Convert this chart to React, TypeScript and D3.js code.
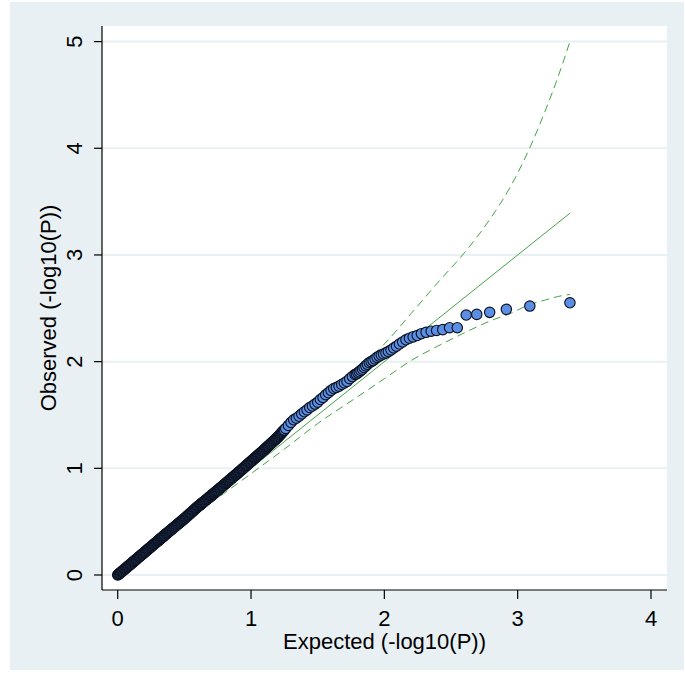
import React from "react";
import * as d3 from "d3";

// Q-Q plot of -log10(P): expected vs observed, one entry per plotted marker.
// Dense body of the distribution first, then the upper tail one rank at a time.
const expected = [
  0.000, 0.005, 0.010, 0.015, 0.020, 0.025, 0.030, 0.035, 0.040, 0.045,
  0.050, 0.055, 0.060, 0.065, 0.070, 0.075, 0.080, 0.085, 0.090, 0.095,
  0.100, 0.105, 0.110, 0.115, 0.120, 0.125, 0.130, 0.135, 0.140, 0.145,
  0.150, 0.155, 0.160, 0.165, 0.170, 0.175, 0.180, 0.185, 0.190, 0.195,
  0.200, 0.205, 0.210, 0.215, 0.220, 0.225, 0.230, 0.235, 0.240, 0.245,
  0.250, 0.255, 0.260, 0.265, 0.270, 0.275, 0.280, 0.285, 0.290, 0.295,
  0.300, 0.305, 0.310, 0.315, 0.320, 0.325, 0.330, 0.335, 0.340, 0.345,
  0.350, 0.355, 0.360, 0.365, 0.370, 0.375, 0.380, 0.385, 0.390, 0.395,
  0.400, 0.405, 0.410, 0.415, 0.420, 0.425, 0.430, 0.435, 0.440, 0.445,
  0.450, 0.455, 0.460, 0.465, 0.470, 0.475, 0.480, 0.485, 0.490, 0.495,
  0.500, 0.505, 0.510, 0.515, 0.520, 0.525, 0.530, 0.535, 0.540, 0.545,
  0.550, 0.555, 0.560, 0.565, 0.570, 0.575, 0.580, 0.585, 0.590, 0.595,
  0.600, 0.605, 0.610, 0.615, 0.620, 0.625, 0.630, 0.635, 0.640, 0.645,
  0.650, 0.655, 0.660, 0.665, 0.670, 0.675, 0.680, 0.685, 0.690, 0.695,
  0.700, 0.705, 0.710, 0.715, 0.720, 0.725, 0.730, 0.735, 0.740, 0.745,
  0.750, 0.755, 0.760, 0.765, 0.770, 0.775, 0.780, 0.785, 0.790, 0.795,
  0.800, 0.805, 0.810, 0.815, 0.820, 0.825, 0.830, 0.835, 0.840, 0.845,
  0.850, 0.855, 0.860, 0.865, 0.870, 0.875, 0.880, 0.885, 0.890, 0.895,
  0.900, 0.905, 0.910, 0.915, 0.920, 0.925, 0.930, 0.935, 0.940, 0.945,
  0.950, 0.955, 0.960, 0.965, 0.970, 0.975, 0.980, 0.985, 0.990, 0.995,
  1.000, 1.005, 1.010, 1.015, 1.020, 1.025, 1.030, 1.035, 1.040, 1.045,
  1.050, 1.055, 1.060, 1.065, 1.070, 1.075, 1.080, 1.085, 1.090, 1.095,
  1.100, 1.105, 1.110, 1.115, 1.120, 1.125, 1.130, 1.135, 1.140, 1.145,
  1.150, 1.155, 1.160, 1.165, 1.170, 1.175, 1.180, 1.185, 1.190, 1.195,
  1.200, 1.205, 1.210, 1.215, 1.220, 1.225, 1.230, 1.235, 1.240, 1.245, 1.250,
  1.26, 1.28, 1.30, 1.32, 1.34, 1.36, 1.38, 1.40, 1.42, 1.44,
  1.46, 1.48, 1.50, 1.52, 1.54, 1.56, 1.58, 1.60, 1.62, 1.64,
  1.66, 1.68, 1.70, 1.72, 1.74, 1.76, 1.78,
  1.790, 1.801, 1.812, 1.824, 1.836, 1.848, 1.861, 1.873, 1.887, 1.901,
  1.915, 1.930, 1.945, 1.961, 1.977, 1.994, 2.012, 2.030, 2.050, 2.070,
  2.091, 2.113, 2.137, 2.162, 2.188, 2.216, 2.246, 2.278, 2.313, 2.351,
  2.392, 2.438, 2.489, 2.547, 2.614, 2.693, 2.790, 2.915, 3.091, 3.392,
];

const observed = [
  0.000, 0.005, 0.011, 0.016, 0.021, 0.026, 0.032, 0.037, 0.042, 0.047,
  0.053, 0.058, 0.063, 0.068, 0.074, 0.079, 0.084, 0.089, 0.095, 0.100,
  0.105, 0.110, 0.116, 0.121, 0.127, 0.132, 0.137, 0.142, 0.148, 0.153,
  0.159, 0.164, 0.169, 0.174, 0.180, 0.185, 0.191, 0.196, 0.201, 0.206,
  0.212, 0.217, 0.223, 0.228, 0.233, 0.238, 0.244, 0.249, 0.254, 0.259,
  0.265, 0.270, 0.276, 0.281, 0.286, 0.291, 0.297, 0.302, 0.307, 0.312,
  0.318, 0.323, 0.329, 0.334, 0.339, 0.344, 0.350, 0.355, 0.360, 0.365,
  0.371, 0.376, 0.382, 0.387, 0.392, 0.397, 0.403, 0.408, 0.413, 0.418,
  0.424, 0.429, 0.434, 0.439, 0.445, 0.450, 0.455, 0.460, 0.466, 0.471,
  0.476, 0.481, 0.486, 0.491, 0.497, 0.502, 0.507, 0.512, 0.518, 0.523,
  0.528, 0.533, 0.539, 0.544, 0.550, 0.556, 0.562, 0.567, 0.573, 0.578,
  0.584, 0.589, 0.595, 0.600, 0.606, 0.612, 0.618, 0.623, 0.629, 0.634,
  0.640, 0.645, 0.650, 0.655, 0.660, 0.665, 0.671, 0.676, 0.681, 0.686,
  0.691, 0.696, 0.701, 0.706, 0.711, 0.716, 0.722, 0.727, 0.732, 0.737,
  0.742, 0.747, 0.753, 0.758, 0.763, 0.768, 0.774, 0.779, 0.784, 0.789,
  0.795, 0.800, 0.806, 0.811, 0.816, 0.821, 0.827, 0.832, 0.837, 0.842,
  0.848, 0.853, 0.859, 0.864, 0.869, 0.874, 0.880, 0.885, 0.891, 0.896,
  0.902, 0.907, 0.912, 0.917, 0.923, 0.928, 0.934, 0.939, 0.944, 0.949,
  0.955, 0.960, 0.966, 0.971, 0.977, 0.982, 0.988, 0.993, 0.999, 1.004,
  1.010, 1.015, 1.021, 1.026, 1.032, 1.037, 1.043, 1.048, 1.054, 1.059,
  1.065, 1.070, 1.076, 1.081, 1.087, 1.092, 1.098, 1.103, 1.109, 1.114,
  1.120, 1.125, 1.131, 1.136, 1.142, 1.147, 1.153, 1.158, 1.164, 1.169,
  1.175, 1.181, 1.187, 1.192, 1.198, 1.204, 1.210, 1.215, 1.221, 1.227,
  1.233, 1.238, 1.244, 1.250, 1.256, 1.261, 1.267, 1.273, 1.279, 1.284,
  1.290, 1.297, 1.304, 1.311, 1.318, 1.325, 1.332, 1.339, 1.346, 1.353, 1.360,
  1.374, 1.402, 1.430, 1.455, 1.470, 1.488, 1.510, 1.530, 1.548, 1.570,
  1.584, 1.602, 1.620, 1.645, 1.664, 1.690, 1.708, 1.730, 1.748, 1.758,
  1.770, 1.786, 1.800, 1.815, 1.840, 1.860, 1.880,
  1.885, 1.895, 1.905, 1.918, 1.930, 1.945, 1.960, 1.975, 1.990, 2.000,
  2.010, 2.025, 2.040, 2.052, 2.062, 2.072, 2.082, 2.095, 2.110, 2.128,
  2.145, 2.165, 2.185, 2.205, 2.220, 2.232, 2.245, 2.262, 2.275, 2.285,
  2.292, 2.300, 2.318, 2.318, 2.437, 2.443, 2.462, 2.490, 2.521, 2.552,
];

// 95% confidence band around the null line
const ciExpected = [0, 0.5, 1.0, 1.25, 1.5, 1.75, 2.0, 2.2, 2.4, 2.6, 2.8, 2.95, 3.1, 3.2, 3.3, 3.392];
const ciUpper = [0, 0.52, 1.06, 1.33, 1.61, 1.88, 2.165, 2.45, 2.74, 3.02, 3.35, 3.65, 4.03, 4.33, 4.66, 5.0];
const ciLower = [0, 0.49, 0.95, 1.18, 1.42, 1.63, 1.84, 2.01, 2.145, 2.27, 2.385, 2.455, 2.54, 2.575, 2.61, 2.63];

const xTicks = [0, 1, 2, 3, 4];
const yTicks = [0, 1, 2, 3, 4, 5];

const BG = "#e8f0f3";
const GREEN = "#45a345";
const FONT = "'Liberation Sans', Arial, sans-serif";

export default function App() {
  const W = 685;
  const H = 682;
  const plot = { left: 102, top: 26, right: 667, bottom: 590 };

  const x = d3.scaleLinear().domain([0, 4]).range([117.7, 651]);
  const y = d3.scaleLinear().domain([0, 5]).range([575, 41.6]);

  const line = d3
    .line<[number, number]>()
    .x((d) => x(d[0]))
    .y((d) => y(d[1]))
    .curve(d3.curveMonotoneX);

  const upperPath = line(ciExpected.map((e, i) => [e, ciUpper[i]] as [number, number])) || "";
  const lowerPath = line(ciExpected.map((e, i) => [e, ciLower[i]] as [number, number])) || "";
  const xMax = d3.max(expected) as number;
  const diagPath = d3.line()([
    [x(0), y(0)],
    [x(xMax), y(xMax)],
  ]) || "";

  const points = expected.map((e, i) => ({ e, o: observed[i] }));

  return (
    <svg
      width={W}
      height={H}
      style={{ position: "absolute", left: 0, top: 0, display: "block", background: "#ffffff" }}
    >
      <rect x={10} y={2} width={674} height={668} fill={BG} />
      <rect
        x={plot.left}
        y={plot.top}
        width={plot.right - plot.left}
        height={plot.bottom - plot.top}
        fill="#ffffff"
      />

      {/* horizontal grid */}
      {yTicks.map((t) => (
        <line
          key={`g${t}`}
          x1={plot.left}
          x2={plot.right}
          y1={y(t)}
          y2={y(t)}
          stroke={BG}
          strokeWidth={2}
        />
      ))}

      {/* null line and confidence band */}
      <path d={diagPath} fill="none" stroke={GREEN} strokeWidth={1} />
      <path d={upperPath} fill="none" stroke={GREEN} strokeWidth={1} strokeDasharray="8 5" />
      <path d={lowerPath} fill="none" stroke={GREEN} strokeWidth={1} strokeDasharray="8 5" />

      {/* markers */}
      {points.map((p, i) => (
        <circle
          key={i}
          cx={x(p.e)}
          cy={y(p.o)}
          r={5.2}
          fill="#5b8fe6"
          stroke="#0c1220"
          strokeWidth={1.15}
        />
      ))}

      {/* axes */}
      <line x1={plot.left} x2={plot.left} y1={plot.top} y2={plot.bottom} stroke="#000" strokeWidth={1.2} />
      <line x1={plot.left} x2={plot.right} y1={plot.bottom} y2={plot.bottom} stroke="#000" strokeWidth={1.2} />

      {yTicks.map((t) => (
        <g key={`yt${t}`}>
          <line x1={plot.left - 8} x2={plot.left} y1={y(t)} y2={y(t)} stroke="#000" strokeWidth={1.2} />
          <text
            transform={`translate(82,${y(t)}) rotate(-90)`}
            textAnchor="middle"
            fontFamily={FONT}
            fontSize={22}
            fill="#000"
          >
            {t}
          </text>
        </g>
      ))}

      {xTicks.map((t) => (
        <g key={`xt${t}`}>
          <line x1={x(t)} x2={x(t)} y1={plot.bottom} y2={plot.bottom + 9} stroke="#000" strokeWidth={1.2} />
          <text x={x(t)} y={626} textAnchor="middle" fontFamily={FONT} fontSize={22} fill="#000">
            {t}
          </text>
        </g>
      ))}

      <text
        x={(plot.left + plot.right) / 2}
        y={649}
        textAnchor="middle"
        fontFamily={FONT}
        fontSize={22}
        fill="#000"
      >
        Expected (-log10(P))
      </text>
      <text
        transform={`translate(56,${(plot.top + plot.bottom) / 2}) rotate(-90)`}
        textAnchor="middle"
        fontFamily={FONT}
        fontSize={22}
        fill="#000"
      >
        Observed (-log10(P))
      </text>
    </svg>
  );
}
